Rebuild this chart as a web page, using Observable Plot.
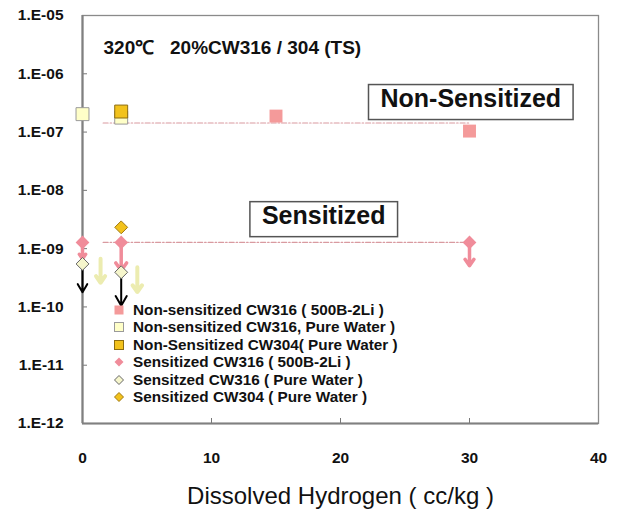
<!DOCTYPE html>
<html><head><meta charset="utf-8">
<script src="https://cdn.jsdelivr.net/npm/d3@7"></script>
<script src="https://cdn.jsdelivr.net/npm/@observablehq/plot@0.6"></script>
<style>
body{margin:0;background:#fff;font-family:"Liberation Sans",Arial,sans-serif;}
#wrap{position:relative;width:619px;height:510px;}
#legend{position:absolute;left:113px;top:301px;font:bold 15.3px "Liberation Sans",Arial,sans-serif;color:#111;}
#legend div{display:flex;align-items:center;white-space:pre;height:17.5px;}
#legend svg{margin-right:8px;}
</style></head><body><div id="wrap"></div>
<script>
// ---- data ----
const seriesNames = [
  "Non-sensitized CW316 ( 500B-2Li )",
  "Non-sensitized CW316, Pure Water )",
  "Non-Sensitized CW304( Pure Water )",
  "Sensitized CW316 ( 500B-2Li )",
  "Sensitzed CW316 ( Pure Water )",
  "Sensitized CW304 ( Pure Water )"
];
const seriesSymbols = ["square", "square", "square", "diamond2", "diamond2", "diamond2"];
const seriesFill = ["#f49a9a", "#ffffc8", "#f2c21c", "#f08c9a", "#f6f6cc", "#f2c21c"];
const seriesStroke = ["none", "#9a9a9a", "#8c6d10", "none", "#666666", "#a07810"];

// Non-sensitized CW316 (500B-2Li)
const nsLiX = [15, 30];
const nsLiY = [1.88e-7, 1.04e-7];
// Non-sensitized CW316 pure water
const nsPwX = [0, 3];
const nsPwY = [2.03e-7, 1.77e-7];
// Non-sensitized CW304 pure water
const ns304X = [3];
const ns304Y = [2.25e-7];
// Sensitized CW316 (500B-2Li), with "less than" arrows
const sLiX = [0, 3, 30];
const sLiY = [1.28e-9, 1.28e-9, 1.28e-9];
const sLiArrowTo = [6.7e-10, 4.2e-10, 5.1e-10];
// Sensitized CW316 pure water, with arrows
const sPwX = [0, 3];
const sPwY = [5.47e-10, 3.93e-10];
const sPwArrowTo = [1.78e-10, 1.05e-10];
// Sensitized CW304 pure water
const s304X = [3];
const s304Y = [2.32e-9];
// pale arrows
const paleX = [1.4, 4.25];
const paleFrom = [6.7e-10, 4.8e-10];
const paleTo = [2.6e-10, 1.8e-10];
// trend lines
const trendNsX = [1.6, 30];
const trendNsY = [1.43e-7, 1.43e-7];
const trendSX = [1.6, 29.6];
const trendSY = [1.28e-9, 1.28e-9];
// annotations
const annLabels = ["Non-Sensitized", "Sensitized"];
const annX = [30.1, 18.7];
const annY = [3.76e-7, 3.68e-9];
const titleText = "320\u2103\u00a0\u00a0 20%CW316 / 304 (TS)";
const xLabel = "Dissolved Hydrogen ( cc/kg )";
const xTicks = [0, 10, 20, 30, 40];
const yTicks = [1e-12, 1e-11, 1e-10, 1e-9, 1e-8, 1e-7, 1e-6, 1e-5];

// ---- build ----
const pts = (xs, ys) => xs.map((x, i) => ({x, y: ys[i]}));
const arr = (xs, y1, y2) => xs.map((x, i) => ({x, y1: y1[i], y2: y2[i]}));
const fmtY = d => "1.E-" + String(Math.round(-Math.log10(d))).padStart(2, "0");
const font = "Liberation Sans, Arial, sans-serif";
const dotOpts = (k, r) => ({x: "x", y: "y", symbol: seriesSymbols[k], fill: seriesFill[k], stroke: seriesStroke[k], strokeWidth: 1, r});

const chart = Plot.plot({
  width: 619, height: 510,
  marginLeft: 82, marginRight: 21, marginTop: 15, marginBottom: 87,
  style: {fontFamily: font, background: "#fff", color: "#111"},
  x: {domain: [0, 40], axis: null},
  y: {type: "log", domain: [1e-12, 1e-5], axis: null},
  marks: [
    Plot.frame({stroke: "#8a8a8a", strokeWidth: 1.3}),
    Plot.axisX({ticks: xTicks, tickSize: 0, tickPadding: 28, tickFormat: d => String(d), fontSize: 15.5, fontWeight: "bold", label: null}),
    Plot.axisX({ticks: [10, 20, 30], tickSize: -5, tickFormat: () => "", stroke: "#777", label: null}),
    Plot.axisY({ticks: yTicks, tickSize: 0, tickPadding: 19, tickFormat: fmtY, fontSize: 15.5, fontWeight: "bold", label: null}),
    Plot.axisY({ticks: yTicks.slice(1, -1), tickSize: -5, tickFormat: () => "", stroke: "#777", label: null}),
    Plot.ruleX([0], {stroke: "#808080", strokeWidth: 2.2}),
    Plot.ruleY([1e-12], {stroke: "#808080", strokeWidth: 2.2}),
    Plot.text([titleText], {frameAnchor: "top-left", dx: 21, dy: 32, lineAnchor: "middle", textAnchor: "start", fontSize: 19, fontWeight: "bold", fill: "#111"}),
    Plot.text([xLabel], {frameAnchor: "bottom", dy: 73, lineAnchor: "middle", fontSize: 24, fill: "#111"}),
    Plot.line(pts(trendNsX, trendNsY), {x: "x", y: "y", stroke: "#d99aa0", strokeWidth: 1.2, strokeDasharray: "5,2,1.5,2"}),
    Plot.line(pts(trendSX, trendSY), {x: "x", y: "y", stroke: "#d99aa0", strokeWidth: 1.2, strokeDasharray: "5,2,1.5,2"}),
    Plot.arrow(arr(paleX, paleFrom, paleTo), {x: "x", y1: "y1", y2: "y2", stroke: "#ececb0", strokeWidth: 4, headLength: 10, headAngle: 70}),
    Plot.arrow(arr(sLiX, sLiY, sLiArrowTo), {x: "x", y1: "y1", y2: "y2", stroke: "#f08c9a", strokeWidth: 3.5, headLength: 8, headAngle: 70}),
    Plot.arrow(arr(sPwX, sPwY, sPwArrowTo), {x: "x", y1: "y1", y2: "y2", stroke: "#000", strokeWidth: 2, headLength: 9, headAngle: 60}),
    Plot.dot(pts(nsLiX, nsLiY), dotOpts(0, 7.3)),
    Plot.dot(pts(nsPwX, nsPwY), dotOpts(1, 7.3)),
    Plot.dot(pts(ns304X, ns304Y), dotOpts(2, 7.3)),
    Plot.dot(pts(sLiX, sLiY), dotOpts(3, 6.2)),
    Plot.dot(pts(sPwX, sPwY), dotOpts(4, 5.8)),
    Plot.dot(pts(s304X, s304Y), dotOpts(5, 5.8)),
    Plot.text(annLabels.map((t, i) => ({t, x: annX[i], y: annY[i]})), {x: "x", y: "y", text: "t", fontSize: 25, fontWeight: "bold", fill: "#111"})
  ]
});

const wrap = document.getElementById("wrap");
wrap.appendChild(chart);

// boxes around annotation labels
Array.from(chart.querySelectorAll("text")).filter(t => annLabels.includes(t.textContent)).forEach(t => {
  const b = t.getBBox();
  const r = document.createElementNS("http://www.w3.org/2000/svg", "rect");
  r.setAttribute("x", b.x - 12); r.setAttribute("y", b.y + 1);
  r.setAttribute("width", b.width + 24); r.setAttribute("height", b.height + 7);
  r.setAttribute("fill", "#fff"); r.setAttribute("stroke", "#555"); r.setAttribute("stroke-width", 1.5);
  if (t.getAttribute("transform")) r.setAttribute("transform", t.getAttribute("transform"));
  t.parentNode.insertBefore(r, t);
});

// legend
const legend = document.createElement("div");
legend.id = "legend";
seriesNames.forEach((name, k) => {
  const row = document.createElement("div");
  const isSq = seriesSymbols[k] === "square";
  const sym = isSq
    ? `<rect x="1.5" y="1.5" width="9" height="9" fill="${seriesFill[k]}" stroke="${seriesStroke[k]}" stroke-width="1"/>`
    : `<path d="M6,1.5L10.5,6L6,10.5L1.5,6Z" fill="${seriesFill[k]}" stroke="${seriesStroke[k]}" stroke-width="1"/>`;
  row.innerHTML = `<svg width="12" height="12">${sym}</svg><span>${name}</span>`;
  legend.appendChild(row);
});
wrap.appendChild(legend);
</script></body></html>
